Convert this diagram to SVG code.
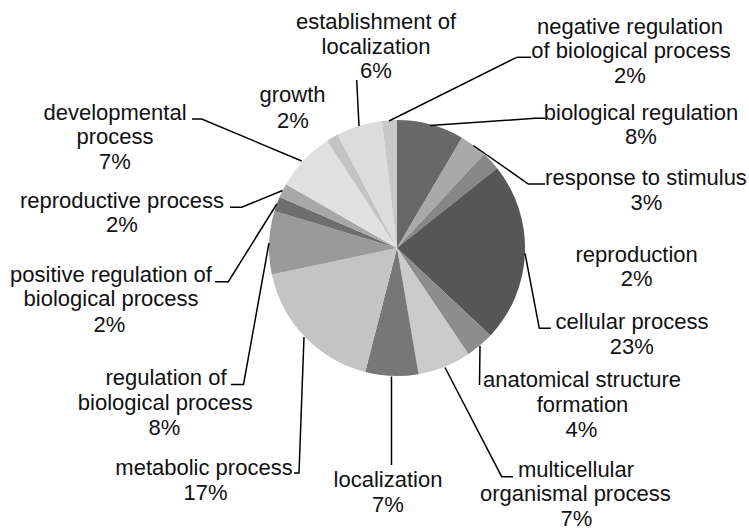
<svg xmlns="http://www.w3.org/2000/svg" width="749" height="528" viewBox="0 0 749 528">
<style>
text{font-family:"Liberation Sans",Arial,sans-serif;font-size:22px;fill:#111;text-anchor:middle}
.ld{fill:none;stroke:#000;stroke-width:1.5}
</style>
<rect width="749" height="528" fill="#fff"/>
<g id="pie">
<path id="s-bioreg" d="M397,248 L397,120 A128,128 0 0 1 462,137.7 Z" fill="#686868"/>
<path id="s-response" d="M397,248 L462,137.7 A128,128 0 0 1 484,154.1 Z" fill="#a9a9a9"/>
<path id="s-reproduction" d="M397,248 L484,154.1 A128,128 0 0 1 497.2,168.3 Z" fill="#878787"/>
<path id="s-cellular" d="M397,248 L497.2,168.3 A128,128 0 0 1 490.5,335.5 Z" fill="#565656"/>
<path id="s-anatomical" d="M397,248 L490.5,335.5 A128,128 0 0 1 468.4,354.2 Z" fill="#8d8d8d"/>
<path id="s-multicellular" d="M397,248 L468.4,354.2 A128,128 0 0 1 418.6,374.2 Z" fill="#cbcbcb"/>
<path id="s-localization" d="M397,248 L418.6,374.2 A128,128 0 0 1 365.2,372 Z" fill="#777777"/>
<path id="s-metabolic" d="M397,248 L365.2,372 A128,128 0 0 1 271.8,274.6 Z" fill="#c4c4c4"/>
<path id="s-regulation" d="M397,248 L271.8,274.6 A128,128 0 0 1 274.5,211 Z" fill="#9a9a9a"/>
<path id="s-positive" d="M397,248 L274.5,211 A128,128 0 0 1 279.6,197 Z" fill="#6e6e6e"/>
<path id="s-reproductive" d="M397,248 L279.6,197 A128,128 0 0 1 286,184.2 Z" fill="#a8a8a8"/>
<path id="s-developmental" d="M397,248 L286,184.2 A128,128 0 0 1 327.1,140.8 Z" fill="#e0e0e0"/>
<path id="s-growth" d="M397,248 L327.1,140.8 A128,128 0 0 1 337.7,134.6 Z" fill="#c3c3c3"/>
<path id="s-establishment" d="M397,248 L337.7,134.6 A128,128 0 0 1 381.8,120.9 Z" fill="#dcdcdc"/>
<path id="s-negative" d="M397,248 L381.8,120.9 A128,128 0 0 1 397,120 Z" fill="#c8c8c8"/>
</g>
<g id="connectors">
<polyline class="ld" points="516.7,57.3 531,57.3"/>
<polyline class="ld" points="389,121 516.7,57.3"/>
<polyline class="ld" points="430,125.5 535,118.3 545,118.3"/>
<polyline class="ld" points="473.3,145.5 528.3,184 545,184"/>
<polyline class="ld" points="525,253.3 539.3,328.3 551,328.3"/>
<polyline class="ld" points="480,346 479.5,385"/>
<polyline class="ld" points="445,367.5 501.7,476.7 513,476.7"/>
<polyline class="ld" points="391.5,376.5 391.5,465"/>
<polyline class="ld" points="304,337 299,473 294,473"/>
<polyline class="ld" points="269,243 243.5,384.5 231,384.5"/>
<polyline class="ld" points="276.8,204 228.3,281.7 215,281.7"/>
<polyline class="ld" points="282.5,190.5 241.7,207.3 230,207.3"/>
<polyline class="ld" points="301.7,161 201.7,119 192,119"/>
<polyline class="ld" points="359,126 356.7,80"/>
</g>
<g id="labels">
<g id="l-establishment"><text x="376" y="29">establishment of</text><text x="376" y="53.5">localization</text><text x="376" y="78">6%</text></g>
<g id="l-negative"><text x="630" y="33.5">negative regulation</text><text x="631" y="58">of biological process</text><text x="630" y="83">2%</text></g>
<g id="l-bioreg"><text x="641" y="119.5">biological regulation</text><text x="641" y="144">8%</text></g>
<g id="l-response"><text x="646" y="185">response to stimulus</text><text x="646.5" y="210">3%</text></g>
<g id="l-reproduction"><text x="636.7" y="261.5">reproduction</text><text x="636.7" y="286">2%</text></g>
<g id="l-cellular"><text x="632" y="328.5">cellular process</text><text x="631.7" y="353.5">23%</text></g>
<g id="l-anatomical"><text x="582" y="387">anatomical structure</text><text x="582.5" y="411.5">formation</text><text x="581.5" y="436.5">4%</text></g>
<g id="l-multicellular"><text x="576" y="476.5">multicellular</text><text x="575.3" y="501">organismal process</text><text x="576.5" y="525.5">7%</text></g>
<g id="l-localization"><text x="388" y="486.5">localization</text><text x="388" y="511.5">7%</text></g>
<g id="l-metabolic"><text x="204" y="475">metabolic process</text><text x="205.5" y="500">17%</text></g>
<g id="l-regulation"><text x="166" y="385">regulation of</text><text x="165.3" y="410">biological process</text><text x="164.5" y="435">8%</text></g>
<g id="l-positive"><text x="111" y="282">positive regulation of</text><text x="111" y="305.5">biological process</text><text x="109.5" y="331.5">2%</text></g>
<g id="l-reproductive"><text x="122" y="207.5">reproductive process</text><text x="122" y="232">2%</text></g>
<g id="l-developmental"><text x="115" y="119.5">developmental</text><text x="115" y="144">process</text><text x="115" y="168.5">7%</text></g>
<g id="l-growth"><text x="292.5" y="102">growth</text><text x="293" y="127.5">2%</text></g>
</g>
</svg>
